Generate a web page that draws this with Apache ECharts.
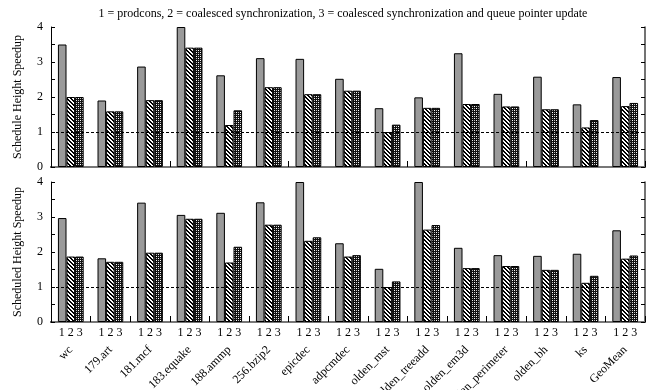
<!DOCTYPE html>
<html><head><meta charset="utf-8">
<script src="https://cdn.jsdelivr.net/npm/echarts@6/dist/echarts.min.js"></script>
<style>html,body{margin:0;padding:0;background:#fff}#c{width:656px;height:390px}</style>
</head><body><div id="c"></div>
<script>
var categories = ['wc','179.art','181.mcf','183.equake','188.ammp','256.bzip2','epicdec','adpcmdec','olden_mst','olden_treeadd','olden_em3d','olden_perimeter','olden_bh','ks','GeoMean'];
var groupLabel = '1 2 3';
var yTicks = [0,1,2,3,4];
// top panel: Schedule Height Speedup
var top1 = [3.5,1.9,2.87,4.0,2.62,3.11,3.09,2.52,1.68,1.99,3.25,2.09,2.58,1.79,2.57];
var top2 = [2.0,1.59,1.91,3.41,1.2,2.28,2.08,2.18,1.0,1.69,1.8,1.73,1.65,1.13,1.74];
var top3 = [2.0,1.59,1.91,3.41,1.62,2.28,2.08,2.18,1.21,1.69,1.8,1.73,1.65,1.34,1.83];
// bottom panel: Scheduled Height Speedup
var bot1 = [2.97,1.82,3.41,3.06,3.12,3.42,4.0,2.25,1.52,4.0,2.12,1.91,1.89,1.95,2.62];
var bot2 = [1.87,1.72,1.98,2.95,1.70,2.78,2.32,1.87,1.0,2.64,1.54,1.6,1.49,1.12,1.81];
var bot3 = [1.87,1.72,1.98,2.95,2.15,2.78,2.42,1.91,1.16,2.77,1.54,1.6,1.49,1.32,1.90];
var baseline = 1;
var titleText = '1 = prodcons, 2 = coalesced synchronization, 3 = coalesced synchronization and queue pointer update';

function hatchPattern(){
  var c = document.createElement('canvas'); c.width = 4; c.height = 4;
  var g = c.getContext('2d');
  g.fillStyle = '#fff'; g.fillRect(0,0,4,4);
  g.fillStyle = '#000';
  for (var i=0;i<4;i++){ g.fillRect(i,i,1,1); g.fillRect((i+1)%4,i,1,1); }
  return c;
}
function crossPattern(){
  var c = document.createElement('canvas'); c.width = 4; c.height = 4;
  var g = c.getContext('2d');
  g.fillStyle = '#111'; g.fillRect(0,0,4,4);
  g.fillStyle = '#fff'; g.fillRect(0,0,1,1); g.fillRect(2,2,1,1);
  g.fillStyle = '#bbb'; g.fillRect(2,0,1,1); g.fillRect(0,2,1,1);
  return c;
}
var hatch = {image: hatchPattern(), repeat: 'repeat'};
var cross = {image: crossPattern(), repeat: 'repeat'};
var gray = '#9a9a9a';
var FONT = 'Liberation Serif';

var chart = echarts.init(document.getElementById('c'), null, {renderer:'canvas'});

var grids = [
  {left:51, right:11, top:27, height:140, outerBoundsMode:'none', containLabel:false},
  {left:51, right:11, top:182, height:140, outerBoundsMode:'none', containLabel:false}
];

function yAx(gi, name){
  return [{
    type:'value', gridIndex:gi, min:0, max:4, interval:0.5, position:'left',
    name:name, nameLocation:'middle', nameGap:27,
    nameTextStyle:{fontFamily:FONT, fontSize:12, color:'#000'},
    axisLine:{show:true, lineStyle:{color:'#000', width:1}},
    axisTick:{show:true, inside:true, length:4, lineStyle:{color:'#000'}},
    axisLabel:{fontFamily:FONT, fontSize:12, color:'#000', margin:8,
      formatter:function(v){ return yTicks.indexOf(v)>=0 ? String(v) : ''; }},
    splitLine:{show:false}
  },{
    type:'value', gridIndex:gi, min:0, max:4, interval:0.5, position:'right',
    axisLine:{show:true, lineStyle:{color:'#444', width:1.5}},
    axisTick:{show:true, inside:true, length:4, lineStyle:{color:'#000'}},
    axisLabel:{show:false}, splitLine:{show:false}
  }];
}

var xAxes = [
  {type:'category', gridIndex:0, data:categories, position:'bottom',
   axisLine:{lineStyle:{color:'#000', width:2}},
   axisTick:{show:true, inside:true, length:6, alignWithLabel:false, lineStyle:{color:'#000'}},
   axisLabel:{show:false}},
  {type:'category', gridIndex:0, data:categories, position:'top',
   axisLine:{lineStyle:{color:'#777', width:2}}, axisTick:{show:false}, axisLabel:{show:false}},
  {type:'category', gridIndex:1, data:categories, position:'bottom',
   axisLine:{lineStyle:{color:'#000', width:2}},
   axisTick:{show:true, inside:true, length:6, alignWithLabel:false, lineStyle:{color:'#000'}},
   axisLabel:{show:true, interval:0, margin:5, fontFamily:FONT, fontSize:12, color:'#000',
     formatter:function(){ return groupLabel; }}},
  {type:'category', gridIndex:1, data:categories, position:'top',
   axisLine:{lineStyle:{color:'#777', width:2}}, axisTick:{show:false}, axisLabel:{show:false}},
  {type:'category', gridIndex:1, data:categories, position:'bottom', offset:20,
   axisLine:{show:false}, axisTick:{show:false},
   axisLabel:{show:true, interval:0, rotate:45, margin:6, fontFamily:FONT, fontSize:12, color:'#000'}}
];

var yAxes = yAx(0,'Schedule Height Speedup').concat(yAx(1,'Scheduled Height Speedup'));

function bar(data, xi, yi, color, withLine){
  var s = {type:'bar', data:data, xAxisIndex:xi, yAxisIndex:yi, barGap:'0%', barCategoryGap:'35%',
    itemStyle:{color:color, borderColor:'#000', borderWidth:1}, animation:false, clip:true};
  if (withLine){
    s.markLine = {symbol:'none', silent:true, animation:false, label:{show:false},
      lineStyle:{color:'#000', type:[3,2], width:1}, data:[{yAxis:baseline}]};
  }
  return s;
}

chart.setOption({
  animation:false,
  title:{text:titleText, left:338, top:3, textAlign:'center',
    textStyle:{fontFamily:FONT, fontSize:12, fontWeight:'normal', color:'#000'}},
  grid:grids,
  xAxis:xAxes,
  yAxis:yAxes,
  series:[
    bar(top1,0,0,gray,false), bar(top2,0,0,hatch,false), bar(top3,0,0,cross,true),
    bar(bot1,2,2,gray,false), bar(bot2,2,2,hatch,false), bar(bot3,2,2,cross,true)
  ]
});
</script></body></html>
